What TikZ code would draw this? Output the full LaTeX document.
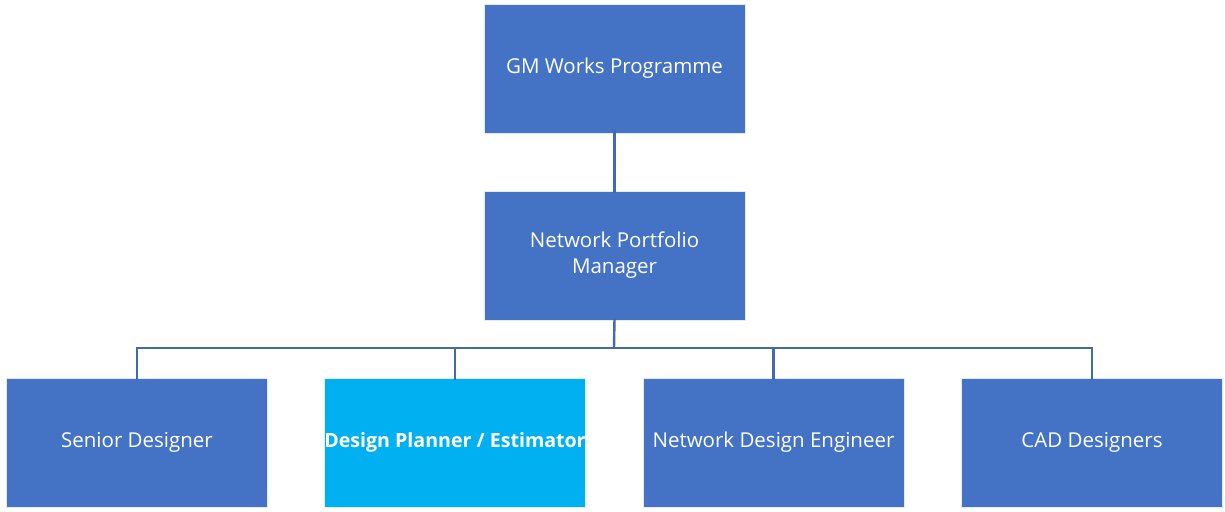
\documentclass[tikz,border=0pt]{standalone}
\usepackage{fontspec}
\setmainfont{Open Sans}
\definecolor{boxblue}{HTML}{4472C4}
\definecolor{boxcyan}{HTML}{00B0F0}
\definecolor{linkblue}{HTML}{4468B4}
\begin{document}
\begin{tikzpicture}[x=1pt,y=-1pt,
  orgbox/.style={draw=white!85!boxblue,line width=0.6pt,fill=boxblue,minimum width=261pt,minimum height=129pt,inner sep=0pt,text=white,font=\fontsize{20.5}{26}\selectfont,align=center},
  link/.style={draw=linkblue,line width=2.4pt}]
\useasboundingbox (0,0) rectangle (1225,511);
\node[orgbox] (gm) at (614.5,68.5) {GM Works Programme};
\node[orgbox] (npm) at (614.5,255.5) {Network Portfolio\\Manager};
\node[orgbox] (sd) at (137,442.5) {Senior Designer};
\node[orgbox,fill=boxcyan,draw=white!85!boxcyan,font=\fontsize{19.6}{26}\selectfont\bfseries] (dp) at (455,442.5) {Design Planner / Estimator};
\node[orgbox] (nde) at (773.5,442.5) {Network Design Engineer};
\node[orgbox] (cad) at (1092,442.5) {CAD Designers};
\coordinate (bus) at (614,348);
\draw[link] ([yshift=3pt]gm.south) -- ([yshift=-2pt]npm.north);
\draw[link] ([yshift=2pt]npm.south) -- (bus);
\draw[link,line cap=rect] (sd.north |- bus) -- (cad.north |- bus);
\foreach \n in {sd,dp,nde,cad}{
  \draw[link] (\n.north |- bus) -- ([yshift=-2pt]\n.north);
}
\end{tikzpicture}
\end{document}
